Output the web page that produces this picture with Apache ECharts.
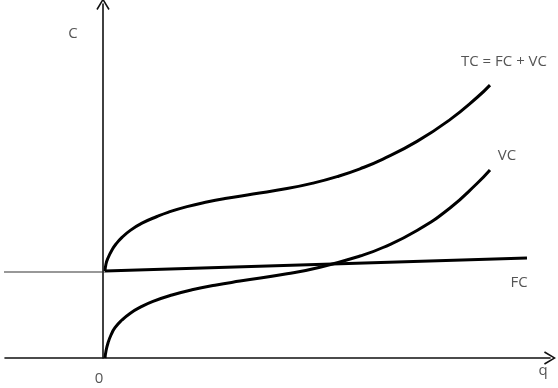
<!DOCTYPE html>
<html><head><meta charset="utf-8">
<script src="https://cdn.jsdelivr.net/npm/echarts@6/dist/echarts.min.js"></script>
<style>html,body{margin:0;padding:0;background:#fff}#c{width:558px;height:388px}</style>
</head><body><div id="c"></div>
<script>
// Quantity q / cost C (arbitrary units)
const tcQ = [2,3,5,9,13,19,27,39,54,65,84,105,122,150,184,210,234,257,280,314,347,374,387];
const tcC = [87,94,100,108,114,120.6,127.4,134.8,141.5,145.7,151.4,156.2,159.4,163.9,169.4,174.9,181.4,189.2,198.9,216.6,238.4,260.5,272.9];
const vcQ = [2,3,5,8,12,19,27,37,50,69,89,112,137,184,217,257,280,314,347,374,387];
const vcC = [0,7,15,23,30.3,38,44.6,50.6,56.6,63,68.2,72.8,76.9,84.2,90.8,102,110.5,127.5,150,174.5,188];
const fcQ = [2,424];
const fcC = [87,100];
const fcBaseQ = [-103,2];
const fcBaseC = [86,86];
const labels = {tc:'TC = FC + VC', vc:'VC', fc:'FC', yName:'C', xName:'q', origin:'0'};

const zip = (a,b)=>a.map((v,i)=>[v,b[i]]);
const chart = echarts.init(document.getElementById('c'));
const arrow = 'path://M0,10 L6,0 L12,10 L10.8,10.8 L6,2.6 L1.2,10.8 Z';
const FONT = '"Open Sans"';
const FS = 15;
const txt = {fontFamily:FONT, fontSize:FS, color:'#555'};
const gtxt = (t,x,y)=>({type:'text',x:x,y:y,style:{text:t,font:FS+'px '+FONT,fill:'#555',textAlign:'center',textVerticalAlign:'middle'}});
chart.setOption({
  animation:false,
  grid:{left:5,right:8,top:4,bottom:30},
  xAxis:{type:'value',min:-98,max:447,
    axisLine:{onZero:true,symbol:['none',arrow],symbolSize:[14,12],lineStyle:{color:'#111',width:1.6}},
    axisTick:{show:false},splitLine:{show:false},axisLabel:{show:false}},
  yAxis:{type:'value',min:0,max:354,
    axisLine:{show:true,onZero:true,symbol:['none',arrow],symbolSize:[14,12],lineStyle:{color:'#111',width:1.6}},
    axisTick:{show:false},splitLine:{show:false},axisLabel:{show:false}},
  graphic:[
    gtxt(labels.yName,73,34),
    gtxt(labels.xName,543,371),
    gtxt(labels.origin,99,379)
  ],
  series:[
    {type:'line',data:zip(fcBaseQ,fcBaseC),showSymbol:false,clip:false,lineStyle:{color:'#333',width:1.2}},
    {type:'line',data:zip(fcQ,fcC),showSymbol:false,lineStyle:{color:'#000',width:3},
      endLabel:{show:true,formatter:labels.fc,...txt,align:'center',verticalAlign:'middle',offset:[-16,25]}},
    {type:'line',data:zip(vcQ,vcC),smooth:0.5,showSymbol:false,lineStyle:{color:'#000',width:3},
      endLabel:{show:true,formatter:labels.vc,...txt,align:'center',verticalAlign:'middle',offset:[9,-14]}},
    {type:'line',data:zip(tcQ,tcC),smooth:0.5,showSymbol:false,lineStyle:{color:'#000',width:3},
      endLabel:{show:true,formatter:labels.tc,...txt,align:'center',verticalAlign:'middle',offset:[6,-23]}}
  ]
});
</script></body></html>
